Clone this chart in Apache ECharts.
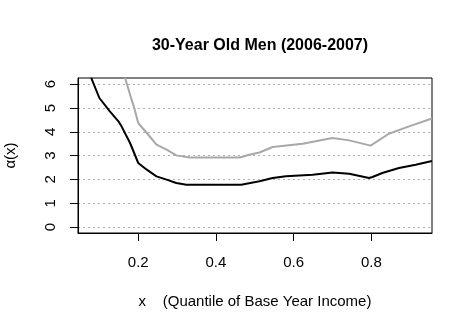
<!DOCTYPE html>
<html>
<head>
<meta charset="utf-8">
<script src="https://cdn.jsdelivr.net/npm/echarts@6/dist/echarts.min.js"></script>
<style>
  html, body { margin: 0; padding: 0; background: #fff; }
  #chart { width: 472px; height: 331px; }
</style>
</head>
<body>
<div id="chart"></div>
<script>
  // values
  const blackX = [0.079, 0.10, 0.127, 0.149, 0.157, 0.179, 0.20, 0.222, 0.247, 0.273, 0.298, 0.324, 0.40, 0.465, 0.512, 0.546, 0.58, 0.649, 0.70, 0.743, 0.794, 0.803, 0.828, 0.871, 0.914, 0.956]
  const blackY = [6.27, 5.42, 4.86, 4.44, 4.23, 3.53, 2.69, 2.41, 2.13, 1.99, 1.85, 1.78, 1.78, 1.78, 1.92, 2.06, 2.13, 2.20, 2.29, 2.24, 2.06, 2.10, 2.27, 2.48, 2.62, 2.77]
  const greyX = [0.166, 0.183, 0.191, 0.20, 0.222, 0.247, 0.273, 0.298, 0.333, 0.461, 0.486, 0.512, 0.546, 0.623, 0.70, 0.743, 0.798, 0.845, 0.897, 0.956]
  const greyY = [6.27, 5.35, 4.93, 4.37, 3.95, 3.46, 3.25, 3.01, 2.92, 2.92, 3.04, 3.13, 3.36, 3.50, 3.74, 3.64, 3.42, 3.92, 4.23, 4.56]
  const xTicks = [0.2, 0.4, 0.6, 0.8]
  const yTicks = [0, 1, 2, 3, 4, 5, 6]

  const pairs = (xs, ys) => xs.map((x, i) => [x, ys[i]])
  const font = 'Liberation Sans, Arial, sans-serif'

  let myChart = echarts.init(document.getElementById('chart'))
  myChart.setOption({
    animation: false,
    backgroundColor: '#fff',
    title: {
      text: '30-Year Old Men (2006-2007)',
      left: 255,
      textAlign: 'center',
      top: 33,
      textStyle: { fontFamily: font, fontSize: 16, fontWeight: 'bold', color: '#000' }
    },
    grid: {
      left: 78,
      right: 40,
      top: 78,
      bottom: 98,
      outerBoundsMode: 'none',
      containLabel: false,
      show: true,
      borderColor: '#000',
      borderWidth: 1,
      backgroundColor: 'transparent'
    },
    xAxis: {
      type: 'value',
      min: 0.045,
      max: 0.956,
      name: 'x    (Quantile of Base Year Income)',
      nameLocation: 'middle',
      nameGap: 61,
      nameTextStyle: { fontFamily: font, fontSize: 15, color: '#000' },
      axisLine: { show: true, onZero: false, lineStyle: { color: '#000', width: 1 } },
      axisTick: { show: true, inside: false, length: 8, customValues: xTicks, lineStyle: { color: '#000' } },
      axisLabel: {
        customValues: xTicks,
        margin: 22,
        fontFamily: font,
        fontSize: 15,
        color: '#000',
        formatter: v => v.toFixed(1)
      },
      splitLine: { show: false }
    },
    yAxis: {
      type: 'value',
      min: -0.25,
      max: 6.26,
      name: 'α(x)',
      nameLocation: 'middle',
      nameRotate: 90,
      nameGap: 60,
      nameTextStyle: { fontFamily: font, fontSize: 15, color: '#000' },
      axisLine: { show: true, onZero: false, lineStyle: { color: '#000', width: 1 } },
      axisTick: { show: true, inside: false, length: 8, customValues: yTicks, lineStyle: { color: '#000' } },
      axisLabel: {
        customValues: yTicks,
        rotate: 90,
        margin: 27,
        align: 'center',
        verticalAlign: 'middle',
        fontFamily: font,
        fontSize: 15,
        color: '#000'
      },
      splitLine: { show: true, lineStyle: { color: '#b0b0b0', type: [2, 3], width: 1 } }
    },
    series: [
      {
        type: 'line',
        data: pairs(greyX, greyY),
        showSymbol: false,
        clip: true,
        lineStyle: { color: '#a8a8a8', width: 2 }
      },
      {
        type: 'line',
        data: pairs(blackX, blackY),
        showSymbol: false,
        clip: true,
        lineStyle: { color: '#000', width: 2 }
      }
    ]
  })
</script>
</body>
</html>
